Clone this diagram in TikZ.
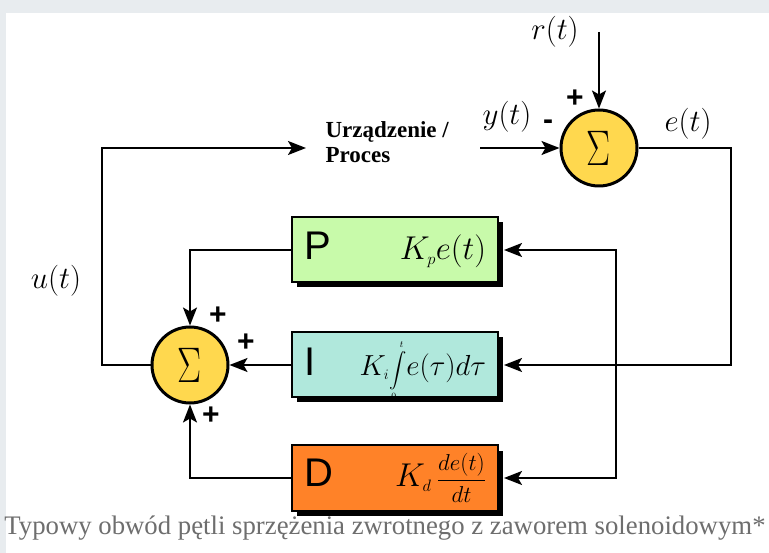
\RequirePackage{fix-cm}
\documentclass[tikz,border=0pt]{standalone}
\usepackage[no-math]{fontspec}
\usepackage{amsmath}
\usetikzlibrary{arrows.meta,shadows}
\setmainfont{Liberation Serif}
\setsansfont{Liberation Sans}
\definecolor{bggray}{HTML}{E8ECEF}
\definecolor{sumyellow}{HTML}{FFD84E}
\definecolor{pgreen}{HTML}{C8FAAA}
\definecolor{iteal}{HTML}{B0E8DC}
\definecolor{dorange}{HTML}{FF8228}
\definecolor{capgray}{HTML}{6E6E6E}
\tikzset{
  arr/.style={line width=2pt,-{Stealth[length=18pt,width=14pt,inset=4pt]}},
  sumnode/.style={circle,draw,line width=3pt,fill=sumyellow,minimum size=76pt,inner sep=0pt,
    font=\fontsize{50}{50}\selectfont},
  pidbox/.style={rectangle,draw,line width=2pt,minimum width=206pt,minimum height=65pt,
    inner xsep=12pt,inner ysep=0pt,text width=182pt,
    general shadow={fill=black,shadow xshift=5pt,shadow yshift=-5pt}},
  mathlab/.style={font=\fontsize{31}{31}\selectfont},
  sign/.style={font=\sffamily\bfseries\fontsize{30}{30}\selectfont},
}
\newcommand{\pidL}[1]{{\sffamily\fontsize{40}{40}\selectfont #1}}
\begin{document}
\begin{tikzpicture}[x=1pt,y=-1pt]
\useasboundingbox (0,0) rectangle (769,553);
\fill[bggray] (0,0) rectangle (769,553);
\fill[white] (6,13) rectangle (769,553);

% summing junctions
\node[sumnode] (s1) at (599,148) {\scalebox{0.72}[1]{$\Sigma$}};
\node[sumnode] (s2) at (190,365) {\scalebox{0.72}[1]{$\Sigma$}};

% PID boxes
\node[pidbox,fill=pgreen] (P) at (395,250)
  {\pidL{P}\hfill{\fontsize{33}{33}\selectfont$K_{\scriptscriptstyle p}e(t)$}};
\node[pidbox,fill=iteal] (I) at (395,365)
  {\pidL{I}\hfill{\fontsize{29}{29}\selectfont$K_{\scriptscriptstyle i}$}\smash{\fontsize{19}{19}\selectfont$\displaystyle\int\limits_{\scriptscriptstyle 0}^{\scriptscriptstyle t}$}{\fontsize{29}{29}\selectfont$e(\tau)d\tau$}};
\node[pidbox,fill=dorange] (D) at (395,478)
  {\pidL{D}\hfill{\fontsize{33}{33}\selectfont$K_{\scriptscriptstyle d}\,$}{\fontsize{23}{23}\selectfont$\dfrac{de(t)}{dt}$}};

% labels
\node[mathlab] (rlab) at (555,32) {$r(t)$};
\node[mathlab] (ylab) at (507,117) {$y(t)$};
\node[mathlab] (elab) at (688,124) {$e(t)$};
\node[mathlab] (ulab) at (56,281) {$u(t)$};
\node[font=\rmfamily\bfseries\fontsize{23}{25}\selectfont,align=left,anchor=west] (plant) at (322,142)
  {Urządzenie /\\Proces};

\node[sign] (p1) at (575,99) {+};
\node[sign] (m1) at (548,125) {-};
\node[sign] (p2) at (218,316) {+};
\node[sign] (p3) at (246,343) {+};
\node[sign] (p4) at (211,416) {+};

% coordinates
\coordinate (rin) at (599,32);
\coordinate (er) at (731,148);
\coordinate (brm) at (616,365);
\coordinate (uc) at (102,148);
\coordinate (pin) at (306,148);
\coordinate (pout) at (480,148);

% connectors
\draw[arr] (rin) -- (s1.north);
\draw[arr] (pout) -- (s1.west);
\draw[arr] (s1.east) -- (er) |- ([xshift=5pt]I.east);
\draw[arr] (brm) |- ([xshift=5pt]P.east);
\draw[arr] (brm) |- ([xshift=5pt]D.east);
\draw[arr] (P.west) -| (s2.north);
\draw[arr] (I.west) -- (s2.east);
\draw[arr] (D.west) -| (s2.south);
\draw[arr] (s2.west) -| (uc) -- (pin);

% caption
\node[font=\rmfamily,text=capgray,inner sep=0pt] (cap) at (385,528)
  {\resizebox{761pt}{!}{Typowy obwód pętli sprzężenia zwrotnego z zaworem solenoidowym*}};
\end{tikzpicture}
\end{document}
